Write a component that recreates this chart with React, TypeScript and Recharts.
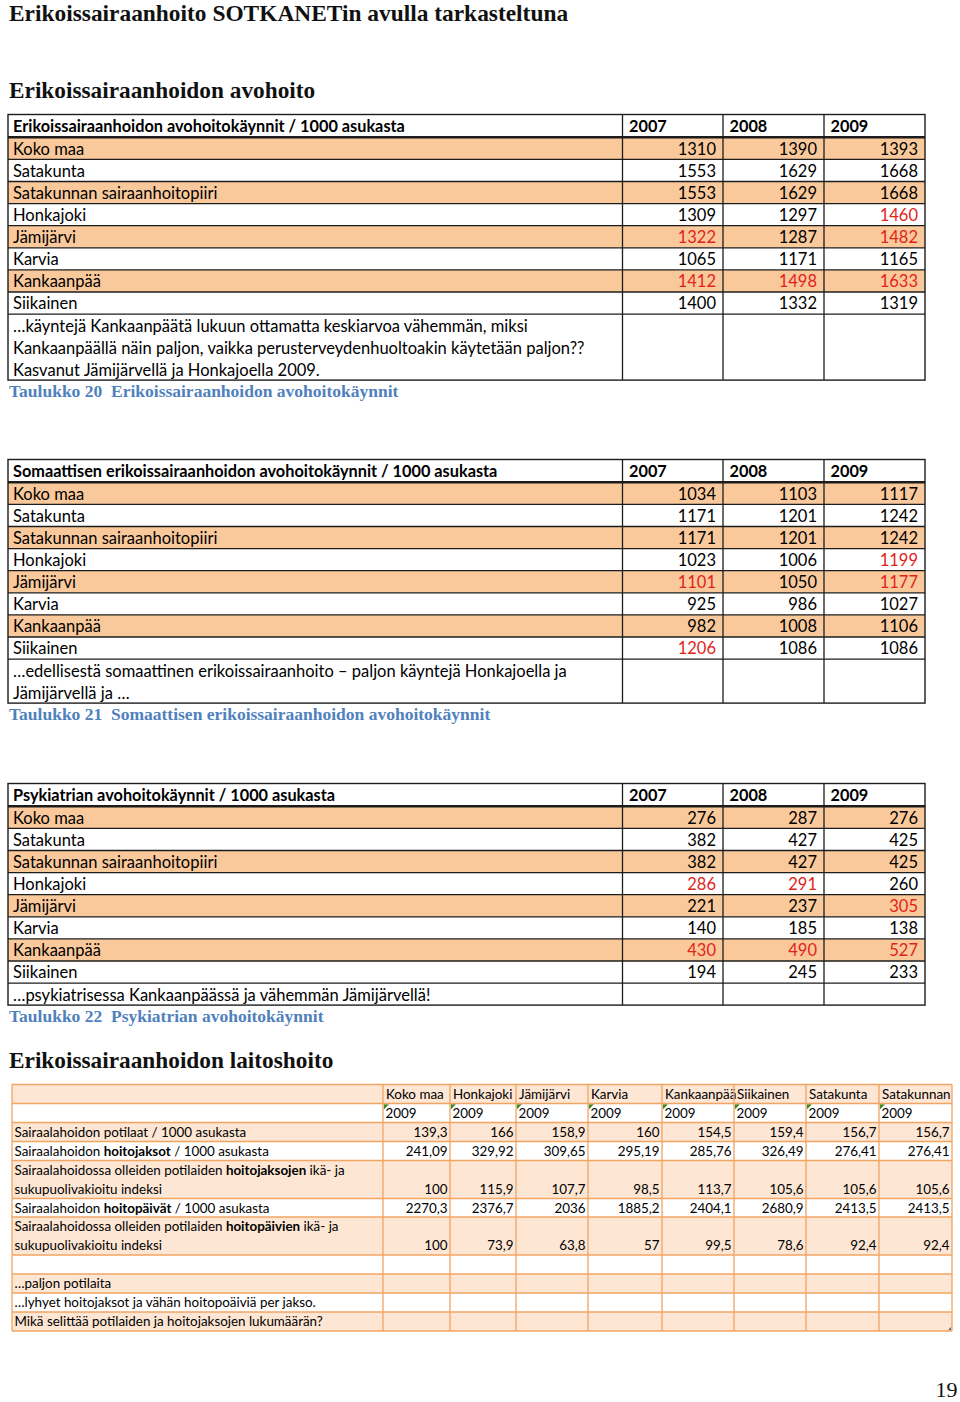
import React from 'react';
import { Surface, Layer, Rectangle } from 'recharts';

// ---------- DATA ----------
const pageTitle = 'Erikoissairaanhoito SOTKANETin avulla tarkasteltuna';
const sectionOutpatient = 'Erikoissairaanhoidon avohoito';
const sectionInpatient = 'Erikoissairaanhoidon laitoshoito';
const pageNumber = '19';

const years = ['2007', '2008', '2009'];
const regions = [
  'Koko maa',
  'Satakunta',
  'Satakunnan sairaanhoitopiiri',
  'Honkajoki',
  'Jämijärvi',
  'Karvia',
  'Kankaanpää',
  'Siikainen',
];

const t1Title = 'Erikoissairaanhoidon avohoitokäynnit / 1000 asukasta';
const t1Values = [
  [1310, 1390, 1393],
  [1553, 1629, 1668],
  [1553, 1629, 1668],
  [1309, 1297, 1460],
  [1322, 1287, 1482],
  [1065, 1171, 1165],
  [1412, 1498, 1633],
  [1400, 1332, 1319],
];
const t1Red = [
  [0, 0, 0],
  [0, 0, 0],
  [0, 0, 0],
  [0, 0, 1],
  [1, 0, 1],
  [0, 0, 0],
  [1, 1, 1],
  [0, 0, 0],
];
const t1Comment = [
  '…käyntejä Kankaanpäätä lukuun ottamatta keskiarvoa vähemmän, miksi',
  'Kankaanpäällä näin paljon, vaikka perusterveydenhuoltoakin käytetään paljon??',
  'Kasvanut Jämijärvellä ja Honkajoella 2009.',
];
const t1Caption = 'Taulukko 20  Erikoissairaanhoidon avohoitokäynnit';

const t2Title = 'Somaattisen erikoissairaanhoidon avohoitokäynnit / 1000 asukasta';
const t2Values = [
  [1034, 1103, 1117],
  [1171, 1201, 1242],
  [1171, 1201, 1242],
  [1023, 1006, 1199],
  [1101, 1050, 1177],
  [925, 986, 1027],
  [982, 1008, 1106],
  [1206, 1086, 1086],
];
const t2Red = [
  [0, 0, 0],
  [0, 0, 0],
  [0, 0, 0],
  [0, 0, 1],
  [1, 0, 1],
  [0, 0, 0],
  [0, 0, 0],
  [1, 0, 0],
];
const t2Comment = [
  '…edellisestä somaattinen erikoissairaanhoito – paljon käyntejä Honkajoella ja',
  'Jämijärvellä ja …',
];
const t2Caption = 'Taulukko 21  Somaattisen erikoissairaanhoidon avohoitokäynnit';

const t3Title = 'Psykiatrian avohoitokäynnit / 1000 asukasta';
const t3Values = [
  [276, 287, 276],
  [382, 427, 425],
  [382, 427, 425],
  [286, 291, 260],
  [221, 237, 305],
  [140, 185, 138],
  [430, 490, 527],
  [194, 245, 233],
];
const t3Red = [
  [0, 0, 0],
  [0, 0, 0],
  [0, 0, 0],
  [1, 1, 0],
  [0, 0, 1],
  [0, 0, 0],
  [1, 1, 1],
  [0, 0, 0],
];
const t3Comment = ['…psykiatrisessa Kankaanpäässä ja vähemmän Jämijärvellä!'];
const t3Caption = 'Taulukko 22  Psykiatrian avohoitokäynnit';

const t4Columns = ['Koko maa', 'Honkajoki', 'Jämijärvi', 'Karvia', 'Kankaanpää', 'Siikainen', 'Satakunta', 'Satakunnan'];
const t4Year = '2009';
const t4Labels = [
  ['Sairaalahoidon potilaat / 1000 asukasta'],
  ['Sairaalahoidon **hoitojaksot** / 1000 asukasta'],
  ['Sairaalahoidossa olleiden potilaiden **hoitojaksojen** ikä- ja', 'sukupuolivakioitu indeksi'],
  ['Sairaalahoidon **hoitopäivät** / 1000 asukasta'],
  ['Sairaalahoidossa olleiden potilaiden **hoitopäivien** ikä- ja', 'sukupuolivakioitu indeksi'],
];
const t4Values = [
  [139.3, 166, 158.9, 160, 154.5, 159.4, 156.7, 156.7],
  [241.09, 329.92, 309.65, 295.19, 285.76, 326.49, 276.41, 276.41],
  [100, 115.9, 107.7, 98.5, 113.7, 105.6, 105.6, 105.6],
  [2270.3, 2376.7, 2036, 1885.2, 2404.1, 2680.9, 2413.5, 2413.5],
  [100, 73.9, 63.8, 57, 99.5, 78.6, 92.4, 92.4],
];
const t4Notes = [
  '…paljon potilaita',
  '…lyhyet hoitojaksot ja vähän hoitopoäiviä per jakso.',
  'Mikä selittää potilaiden ja hoitojaksojen lukumäärän?',
];

// ---------- STYLE ----------
const SANS = "Lato, 'Open Sans', sans-serif";
const SERIF = "'Liberation Serif', 'Times New Roman', serif";
const ORANGE = '#FAC99B';
const RED = '#E2231A';
const BLUE = '#4F81BD';
const LINE = '#1c1c1c';
const PEACH = '#FDE6D3';
const ORANGE_LINE = '#F2A463';

const fmt = (v: number) => String(v).replace('.', ',');

function renderRich(s: string) {
  const parts = s.split('**');
  return parts.map((p, i) => (
    <tspan key={i} fontWeight={i % 2 === 1 ? 'bold' : 'normal'}>
      {p}
    </tspan>
  ));
}

type StatProps = {
  top: number;
  title: string;
  values: number[][];
  red: number[][];
  comment: string[];
  caption: string;
};

function StatTable({ top, title, values, red, comment, caption }: StatProps) {
  const colX = [8, 622.5, 723, 824, 925];
  const headerH = 22.8;
  const rowH = 22.1;
  const lineH = 22;
  const fs = 16.5;
  const dy = 6.4;
  const bodyTop = top + headerH;
  const commentTop = bodyTop + rowH * regions.length;
  const bottom = commentTop + lineH * comment.length;
  const rowY = (i: number) => bodyTop + i * rowH;
  return (
    <Layer>
      {regions.map((r, i) =>
        i % 2 === 0 ? (
          <Rectangle key={'f' + i} x={colX[0]} y={rowY(i)} width={colX[4] - colX[0]} height={rowH} fill={ORANGE} />
        ) : null
      )}
      {/* header */}
      <text x={colX[0] + 5} y={top + headerH / 2 + dy} fontFamily={SANS} fontSize={16.3} fontWeight="bold" fill="#000">
        {title}
      </text>
      {years.map((y, j) => (
        <text key={y} x={colX[j + 1] + 6.5} y={top + headerH / 2 + dy} fontFamily={SANS} fontSize={16.3} fontWeight="bold" fill="#000">
          {y}
        </text>
      ))}
      {/* rows */}
      {regions.map((r, i) => (
        <g key={'r' + i}>
          <text x={colX[0] + 5} y={rowY(i) + rowH / 2 + dy} fontFamily={SANS} fontSize={fs} fill="#000">
            {r}
          </text>
          {values[i].map((v, j) => (
            <text
              key={j}
              x={colX[j + 2] - 7}
              y={rowY(i) + rowH / 2 + dy}
              fontFamily={SANS}
              fontSize={fs}
              textAnchor="end"
              fill={red[i][j] ? RED : '#000'}
            >
              {v}
            </text>
          ))}
        </g>
      ))}
      {comment.map((c, k) => (
        <text key={'c' + k} x={colX[0] + 5} y={commentTop + k * lineH + lineH / 2 + dy} fontFamily={SANS} fontSize={fs} fill="#000">
          {c}
        </text>
      ))}
      {/* grid lines */}
      {regions.map((r, i) => (
        <line key={'h' + i} x1={colX[0]} x2={colX[4]} y1={rowY(i + 1)} y2={rowY(i + 1)} stroke={LINE} strokeWidth={1.3} />
      ))}
      <line x1={colX[0]} x2={colX[4]} y1={bodyTop} y2={bodyTop} stroke={LINE} strokeWidth={2.6} />
      {colX.slice(1, 4).map((x, j) => (
        <line key={'v' + j} x1={x} x2={x} y1={top} y2={bottom} stroke={LINE} strokeWidth={1.3} />
      ))}
      <rect x={colX[0]} y={top} width={colX[4] - colX[0]} height={bottom - top} fill="none" stroke={LINE} strokeWidth={1.4} />
      <text x={9} y={bottom + 16.5} fontFamily={SERIF} fontSize={17.5} fontWeight="bold" fill={BLUE} xmlSpace="preserve">
        {caption}
      </text>
    </Layer>
  );
}

function InpatientTable() {
  const top = 1084.5;
  const colX = [12, 383, 450, 516, 588, 662, 734, 806, 879, 952];
  const rowHeights = [19, 19, 19, 19, 38, 18.5, 38, 19, 19, 19, 19];
  const ys: number[] = [top];
  rowHeights.forEach((h) => ys.push(ys[ys.length - 1] + h));
  const fs = 13.4;
  const base = (rowTop: number) => rowTop + 9.5 + 4.9;
  const width = colX[colX.length - 1] - colX[0];
  const bottom = ys[ys.length - 1];
  return (
    <Layer>
      {rowHeights.map((h, i) =>
        i % 2 === 0 ? <Rectangle key={'f' + i} x={colX[0]} y={ys[i]} width={width} height={h} fill={PEACH} /> : null
      )}
      {/* header row 1 */}
      {t4Columns.map((c, j) => (
        <text key={'c' + j} x={colX[j + 1] + 3} y={base(ys[0])} fontFamily={SANS} fontSize={fs} fill="#000">
          {c}
        </text>
      ))}
      {/* header row 2 */}
      {t4Columns.map((c, j) => (
        <g key={'y' + j}>
          <text x={colX[j + 1] + 2.5} y={base(ys[1])} fontFamily={SANS} fontSize={fs} fill="#000">
            {t4Year}
          </text>
          <path
            d={`M${colX[j + 1] + 0.8},${ys[1] + 0.8} L${colX[j + 1] + 6},${ys[1] + 0.8} L${colX[j + 1] + 0.8},${ys[1] + 6} Z`}
            fill="#3B8A2A"
          />
        </g>
      ))}
      {/* data rows */}
      {t4Labels.map((lines, i) => {
        const rowTop = ys[i + 2];
        const last = lines.length - 1;
        return (
          <g key={'d' + i}>
            {lines.map((l, k) => (
              <text key={k} x={colX[0] + 2.5} y={base(rowTop) + k * 19} fontFamily={SANS} fontSize={fs} fill="#000">
                {renderRich(l)}
              </text>
            ))}
            {t4Values[i].map((v, j) => (
              <text
                key={'v' + j}
                x={colX[j + 2] - 2.5}
                y={base(rowTop) + last * 19}
                fontFamily={SANS}
                fontSize={fs}
                textAnchor="end"
                fill="#000"
              >
                {fmt(v)}
              </text>
            ))}
          </g>
        );
      })}
      {t4Notes.map((n, k) => (
        <text key={'n' + k} x={colX[0] + 2.5} y={base(ys[8 + k])} fontFamily={SANS} fontSize={fs} fill="#000">
          {n}
        </text>
      ))}
      {/* grid */}
      {ys.map((y, i) => (
        <line key={'h' + i} x1={colX[0]} x2={colX[colX.length - 1]} y1={y} y2={y} stroke={ORANGE_LINE} strokeWidth={1.3} />
      ))}
      {colX.map((x, i) => (
        <line key={'v' + i} x1={x} x2={x} y1={top} y2={bottom} stroke={ORANGE_LINE} strokeWidth={1.3} />
      ))}
      <path d={`M${colX[9] - 1},${bottom - 4} L${colX[9] - 1},${bottom - 1} L${colX[9] - 4},${bottom - 1} Z`} fill="#666" />
    </Layer>
  );
}

export default function App() {
  return (
    <div style={{ position: 'absolute', left: 0, top: 0, width: 960, height: 1402, background: '#fff' }}>
      <Surface width={960} height={1402}>
        <text x={9} y={21} fontFamily={SERIF} fontSize={23.4} fontWeight="bold" fill="#111">
          {pageTitle}
        </text>
        <text x={9} y={98} fontFamily={SERIF} fontSize={23.3} fontWeight="bold" fill="#111">
          {sectionOutpatient}
        </text>
        <StatTable top={114.5} title={t1Title} values={t1Values} red={t1Red} comment={t1Comment} caption={t1Caption} />
        <StatTable top={459.5} title={t2Title} values={t2Values} red={t2Red} comment={t2Comment} caption={t2Caption} />
        <StatTable top={783.5} title={t3Title} values={t3Values} red={t3Red} comment={t3Comment} caption={t3Caption} />
        <text x={9} y={1068} fontFamily={SERIF} fontSize={23.3} fontWeight="bold" fill="#111">
          {sectionInpatient}
        </text>
        <InpatientTable />
        <text x={957.5} y={1396.5} fontFamily={SERIF} fontSize={22} textAnchor="end" fill="#111">
          {pageNumber}
        </text>
      </Surface>
    </div>
  );
}
